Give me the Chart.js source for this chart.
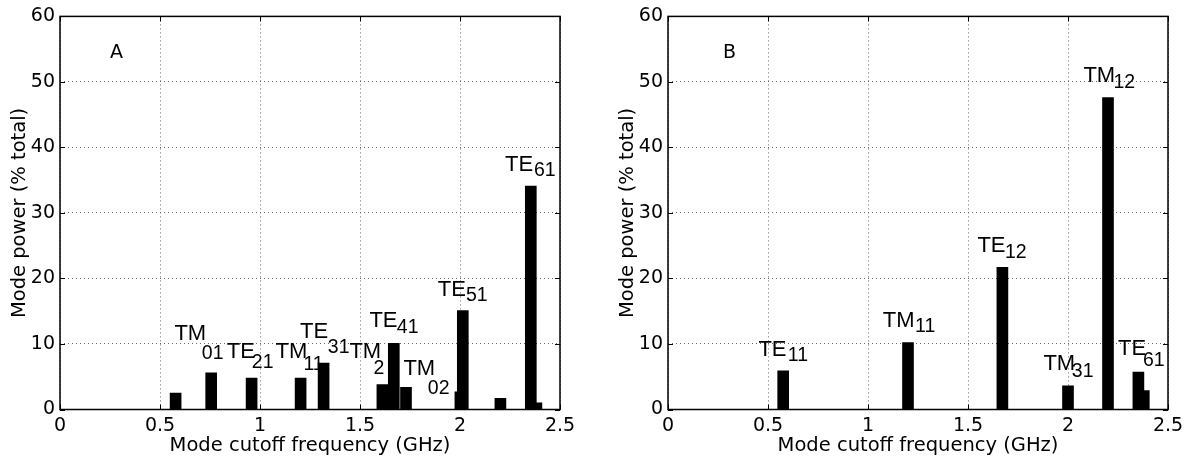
<!DOCTYPE html>
<html>
<head>
<meta charset="utf-8">
<script src="https://cdn.jsdelivr.net/npm/chart.js@4/dist/chart.umd.min.js"></script>
<style>
    body { margin: 0; background: #fff; }
    canvas { position: absolute; top: 0; }
    #chart-a { left: 0; }
    #chart-b { left: 608px; }
</style>
</head>
<body>
<canvas id="chart-a" width="600" height="466"></canvas>
<canvas id="chart-b" width="587" height="466"></canvas>
<script>
// panel A: mode cutoff frequency (GHz) and power (% total)
var freqA = [0.578, 0.756, 0.958, 1.203, 1.318, 1.612, 1.669, 1.730, 2.002, 2.014, 2.202, 2.354, 2.382];
var powerA = [2.5, 5.6, 4.8, 4.8, 7.1, 3.8, 10.1, 3.4, 2.7, 15.1, 1.7, 34.1, 1.0];

// panel B
var freqB = [0.576, 1.200, 1.672, 2.000, 2.200, 2.352, 2.379];
var powerB = [5.9, 10.2, 21.7, 3.6, 47.6, 5.7, 2.9];

var xTicks = [0, 0.5, 1, 1.5, 2, 2.5];
var yTicks = [0, 10, 20, 30, 40, 50, 60];

// mode names: text, x (GHz), y (%), subscript part
var labelsA = [
    ["TM", 0.572, 10.6], ["01", 0.709, 7.7, 1],
    ["TE", 0.834, 7.9], ["21", 0.959, 6.4, 1],
    ["TM", 1.078, 7.8], ["11", 1.217, 6.0, 1],
    ["TE", 1.200, 10.9], ["31", 1.339, 8.6, 1],
    ["TM", 1.447, 7.8], ["2", 1.567, 5.4, 1],
    ["TE", 1.547, 12.6], ["41", 1.684, 11.7, 1],
    ["TM", 1.717, 5.3], ["02", 1.839, 2.4, 1],
    ["TE", 1.889, 17.3], ["51", 2.030, 16.6, 1],
    ["TE", 2.225, 36.4], ["61", 2.370, 35.7, 1],
];
var labelsB = [
    ["TE", 0.452, 8.1], ["11", 0.599, 7.4, 1],
    ["TM", 1.074, 12.6], ["11", 1.235, 11.8, 1],
    ["TE", 1.547, 24.0], ["12", 1.685, 23.2, 1],
    ["TM", 2.077, 50.0], ["12", 2.227, 49.1, 1],
    ["TM", 1.877, 6.0], ["31", 2.019, 5.0, 1],
    ["TE", 2.250, 8.3], ["61", 2.375, 6.6, 1],
];

var axisFont = "'DejaVu Sans', sans-serif";
var labelFont = "'Liberation Sans', Arial, sans-serif";

// box round the plot with inward ticks on all four sides
var framePlugin = {
    id: "frame",
    afterDatasetsDraw: function (chart) {
        var ctx = chart.ctx, a = chart.chartArea;
        var x = chart.scales.x, y = chart.scales.y;
        ctx.save();
        ctx.strokeStyle = "#000";
        ctx.lineWidth = 1;
        ctx.beginPath();
        x.ticks.forEach(function (t) {
            var px = Math.round(x.getPixelForValue(t.value)) + 0.5;
            ctx.moveTo(px, a.bottom); ctx.lineTo(px, a.bottom - 5);
            ctx.moveTo(px, a.top); ctx.lineTo(px, a.top + 5);
        });
        y.ticks.forEach(function (t) {
            var py = Math.round(y.getPixelForValue(t.value)) + 0.5;
            ctx.moveTo(a.left, py); ctx.lineTo(a.left + 5, py);
            ctx.moveTo(a.right, py); ctx.lineTo(a.right - 5, py);
        });
        ctx.stroke();
        ctx.lineWidth = 1.5;
        ctx.strokeRect(a.left, a.top, a.right - a.left, a.bottom - a.top);
        ctx.restore();
    }
};

var labelPlugin = {
    id: "modeLabels",
    afterDatasetsDraw: function (chart, args, opts) {
        var ctx = chart.ctx;
        var x = chart.scales.x, y = chart.scales.y;
        ctx.save();
        ctx.fillStyle = "#000";
        ctx.textAlign = "left";
        ctx.textBaseline = "alphabetic";
        opts.items.forEach(function (it) {
            ctx.font = (it[3] ? "19.5px " : "22px ") + labelFont;
            ctx.fillText(it[0], x.getPixelForValue(it[1]), y.getPixelForValue(it[2]));
        });
        ctx.font = "19px " + axisFont;
        ctx.fillText(opts.tag[0], x.getPixelForValue(opts.tag[1]), y.getPixelForValue(opts.tag[2]));
        ctx.restore();
    }
};

function makeChart(id, freqs, powers, labels, tag, padRight) {
    var points = freqs.map(function (f, i) {
        return { x: f, y: powers[i] };
    });
    return new Chart(document.getElementById(id), {
        type: "bar",
        data: {
            datasets: [{
                data: points,
                backgroundColor: "#000",
                borderWidth: 0,
                barThickness: 11,
            }],
        },
        options: {
            responsive: false,
            animation: false,
            layout: { padding: { top: 15, right: padRight, left: 0, bottom: 0 } },
            scales: {
                x: {
                    type: "linear",
                    min: 0,
                    max: 2.5,
                    offset: false,
                    afterBuildTicks: function (s) {
                        s.ticks = xTicks.map(function (v) { return { value: v }; });
                    },
                    afterFit: function (s) { s.height = 56.5; },
                    grid: { color: "#666", lineWidth: 1, drawTicks: false, offset: false },
                    border: { display: false, dash: [1, 3] },
                    ticks: {
                        color: "#000",
                        padding: 5,
                        maxRotation: 0,
                        font: { family: axisFont, size: 19 },
                        callback: function (v) { return String(v); },
                    },
                    title: {
                        display: true,
                        text: "Mode cutoff frequency (GHz)",
                        color: "#000",
                        padding: { top: 0, bottom: 8 },
                        font: { family: axisFont, size: 19.5 },
                    },
                },
                y: {
                    min: 0,
                    max: 60,
                    afterBuildTicks: function (s) {
                        s.ticks = yTicks.map(function (v) { return { value: v }; });
                    },
                    afterFit: function (s) { s.width = 60; },
                    grid: { color: "#666", lineWidth: 1, drawTicks: false },
                    border: { display: false, dash: [1, 3] },
                    ticks: {
                        color: "#000",
                        padding: 5,
                        font: { family: axisFont, size: 19 },
                        callback: function (v) { return String(v); },
                    },
                    title: {
                        display: true,
                        text: "Mode power (% total)",
                        color: "#000",
                        padding: { top: 8, bottom: 0 },
                        font: { family: axisFont, size: 19.5 },
                    },
                },
            },
            plugins: {
                legend: { display: false },
                tooltip: { enabled: false },
                modeLabels: { items: labels, tag: tag },
            },
        },
        plugins: [framePlugin, labelPlugin],
    });
}

makeChart("chart-a", freqA, powerA, labelsA, ["A", 0.25, 53.6], 40);
makeChart("chart-b", freqB, powerB, labelsB, ["B", 0.275, 53.6], 27);
</script>
</body>
</html>
